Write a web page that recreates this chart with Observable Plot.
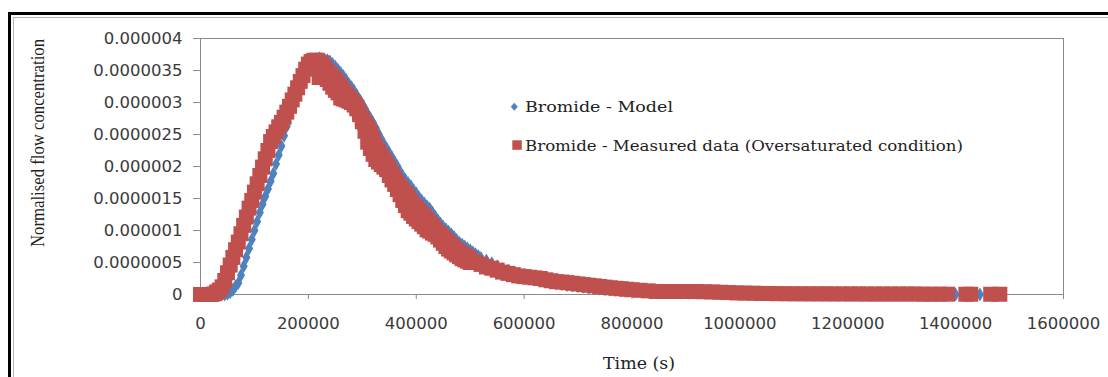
<!DOCTYPE html>
<html><head><meta charset="utf-8">
<script src="https://cdn.jsdelivr.net/npm/d3@7"></script>
<script src="https://cdn.jsdelivr.net/npm/@observablehq/plot@0.6"></script>
<style>
html,body{margin:0;padding:0;background:#fff;}
#wrap{position:relative;width:1108px;height:377px;overflow:hidden;background:#fff;}
#outer{position:absolute;left:8px;top:12px;width:1300px;height:600px;border-left:3px solid #000;border-top:3px solid #000;}
#inner{position:absolute;left:13px;top:17px;width:1300px;height:600px;border-left:1px solid #b5b5b5;border-top:1px solid #b5b5b5;}
#wrap svg{position:absolute;left:0;top:0;overflow:visible;}
</style></head><body>
<div id="wrap"><div id="outer"></div><div id="inner"></div></div>
<script>
// ---- axis ticks ----
const xTicks = [0, 200000, 400000, 600000, 800000, 1000000, 1200000, 1400000, 1600000];
const xTickLabels = ["0", "200000", "400000", "600000", "800000", "1000000", "1200000", "1400000", "1600000"];
const yTicks = [0, 5e-7, 1e-6, 1.5e-6, 2e-6, 2.5e-6, 3e-6, 3.5e-6, 4e-6];
const yTickLabels = ["0", "0.0000005", "0.000001", "0.0000015", "0.000002", "0.0000025", "0.000003", "0.0000035", "0.000004"];

// ---- series names ----
const seriesNames = ["Bromide - Model", "Bromide - Measured data (Oversaturated condition)"];
const axisTitles = {x: "Time (s)", y: "Normalised flow concentration"};

// ---- Bromide - Model (time s, normalised concentration) ----
const modelTime = [0, 5000, 10000, 15000, 20000, 25000, 30000, 35000, 40000, 45000,
  50000, 55000, 60000, 65000, 70000, 75000, 80000, 85000, 90000, 95000,
  100000, 105000, 110000, 115000, 120000, 125000, 130000, 135000, 140000, 145000,
  150000, 155000, 160000, 165000, 170000, 175000, 180000, 185000, 190000, 195000,
  200000, 205000, 210000, 215000, 220000, 225000, 230000, 235000, 240000, 245000,
  250000, 255000, 260000, 265000, 270000, 275000, 280000, 285000, 290000, 295000,
  300000, 305000, 310000, 315000, 320000, 325000, 330000, 335000, 340000, 345000,
  350000, 355000, 360000, 365000, 370000, 375000, 380000, 385000, 390000, 395000,
  400000, 405000, 410000, 415000, 420000, 425000, 430000, 435000, 440000, 445000,
  450000, 455000, 460000, 465000, 470000, 475000, 480000, 485000, 490000, 495000,
  500000, 505000, 510000, 515000, 520000, 530000, 540000, 550000, 560000, 570000,
  580000, 590000, 600000, 610000, 620000, 630000, 640000, 650000, 660000, 670000,
  680000, 690000, 700000, 710000, 720000, 730000, 740000, 750000, 760000, 770000,
  780000, 790000, 800000, 815000, 830000, 845000, 860000, 875000, 890000, 905000,
  920000, 935000, 950000, 965000, 980000, 995000, 1010000, 1025000, 1040000, 1055000,
  1070000, 1085000, 1100000, 1115000, 1130000, 1145000, 1160000, 1175000, 1190000, 1205000,
  1220000, 1235000, 1250000, 1265000, 1280000, 1295000, 1310000, 1325000, 1340000, 1355000,
  1370000, 1385000, 1400000, 1415000, 1430000, 1445000, 1460000, 1475000];
const modelConc = [0, 0, 0, 0, 0, 0, 0, 0, 0, 0,
  0.01e-6, 0.035e-6, 0.07e-6, 0.13e-6, 0.18e-6, 0.30e-6, 0.44e-6, 0.58e-6, 0.72e-6, 0.86e-6,
  1.00e-6, 1.14e-6, 1.28e-6, 1.41e-6, 1.53e-6, 1.65e-6, 1.77e-6, 1.89e-6, 2.04e-6, 2.18e-6,
  2.32e-6, 2.48e-6, 2.63e-6, 2.82e-6, 2.97e-6, 3.13e-6, 3.24e-6, 3.34e-6, 3.42e-6, 3.50e-6,
  3.57e-6, 3.62e-6, 3.66e-6, 3.68e-6, 3.69e-6, 3.68e-6, 3.67e-6, 3.66e-6, 3.64e-6, 3.60e-6,
  3.56e-6, 3.51e-6, 3.46e-6, 3.41e-6, 3.35e-6, 3.29e-6, 3.24e-6, 3.18e-6, 3.11e-6, 3.04e-6,
  2.97e-6, 2.90e-6, 2.82e-6, 2.75e-6, 2.68e-6, 2.60e-6, 2.51e-6, 2.43e-6, 2.35e-6, 2.28e-6,
  2.21e-6, 2.14e-6, 2.07e-6, 2.00e-6, 1.92e-6, 1.85e-6, 1.79e-6, 1.74e-6, 1.69e-6, 1.63e-6,
  1.58e-6, 1.52e-6, 1.47e-6, 1.42e-6, 1.38e-6, 1.34e-6, 1.28e-6, 1.22e-6, 1.16e-6, 1.11e-6,
  1.06e-6, 1.02e-6, 0.98e-6, 0.94e-6, 0.90e-6, 0.85e-6, 0.81e-6, 0.78e-6, 0.75e-6, 0.72e-6,
  0.69e-6, 0.66e-6, 0.63e-6, 0.60e-6, 0.57e-6, 0.53e-6, 0.49e-6, 0.44e-6, 0.40e-6, 0.37e-6,
  0.34e-6, 0.31e-6, 0.29e-6, 0.27e-6, 0.25e-6, 0.23e-6, 0.21e-6, 0.19e-6, 0.18e-6, 0.165e-6,
  0.15e-6, 0.14e-6, 0.13e-6, 0.12e-6, 0.11e-6, 0.10e-6, 0.095e-6, 0.088e-6, 0.082e-6, 0.075e-6,
  0.07e-6, 0.064e-6, 0.059e-6, 0.053e-6, 0.047e-6, 0.042e-6, 0.038e-6, 0.034e-6, 0.031e-6, 0.028e-6,
  0.026e-6, 0.023e-6, 0.02e-6, 0.017e-6, 0.014e-6, 0.012e-6, 0.01e-6, 0.009e-6, 0.008e-6, 0.007e-6,
  0.006e-6, 0.006e-6, 0.005e-6, 0.005e-6, 0.004e-6, 0.004e-6, 0.003e-6, 0.003e-6, 0.003e-6, 0.002e-6,
  0.002e-6, 0.002e-6, 0.002e-6, 0.001e-6, 0.001e-6, 0.001e-6, 0.001e-6, 0.001e-6, 0.001e-6, 0.001e-6,
  0.001e-6, 0.001e-6, 0.001e-6, 0.001e-6, 0.001e-6, 0.001e-6, 0.001e-6, 0.001e-6];

// ---- Bromide - Measured data (time s, normalised concentration) ----
// rising limb and peak
const measuredTimeRise = [0, 5000, 10000, 15000, 20000, 25000, 30000, 35000, 40000, 45000,
  50000, 55000, 60000, 65000, 70000, 75000, 80000, 85000, 90000, 95000,
  100000, 105000, 110000, 115000, 120000, 125000, 130000, 135000, 140000, 145000,
  150000, 155000, 160000, 165000, 170000, 175000, 180000, 185000, 190000, 195000,
  200000, 205000, 210000, 215000, 220000, 225000];
const measuredConcRise = [0, 0, 0, 0, 0, 0.01e-6, 0.04e-6, 0.07e-6, 0.12e-6, 0.22e-6,
  0.34e-6, 0.46e-6, 0.58e-6, 0.70e-6, 0.82e-6, 0.95e-6, 1.08e-6, 1.21e-6, 1.35e-6, 1.47e-6,
  1.60e-6, 1.73e-6, 1.86e-6, 1.99e-6, 2.12e-6, 2.25e-6, 2.39e-6, 2.47e-6, 2.54e-6, 2.62e-6,
  2.69e-6, 2.77e-6, 2.85e-6, 2.94e-6, 3.04e-6, 3.13e-6, 3.23e-6, 3.33e-6, 3.42e-6, 3.52e-6,
  3.60e-6, 3.64e-6, 3.66e-6, 3.66e-6, 3.39e-6, 3.62e-6];
// falling limb: scattered readings, lower and upper values at each time
const measuredTimeFall = [230000, 235000, 240000, 245000, 250000, 255000, 260000, 265000, 270000, 275000,
  280000, 285000, 290000, 295000, 300000, 305000, 310000, 315000, 320000, 325000,
  330000, 335000, 340000, 345000, 350000, 355000, 360000, 365000, 370000, 375000,
  380000, 385000, 390000, 395000, 400000, 405000, 410000, 415000, 420000, 425000,
  430000, 435000, 440000, 445000, 450000, 455000, 460000, 465000, 470000, 475000,
  480000, 485000, 490000, 495000, 500000];
const measuredConcFallLow = [3.42e-6, 3.36e-6, 3.30e-6, 3.24e-6, 3.19e-6, 3.15e-6, 3.07e-6, 3.055e-6, 3.04e-6, 3.02e-6,
  3.00e-6, 2.96e-6, 2.90e-6, 2.81e-6, 2.70e-6, 2.55e-6, 2.38e-6, 2.28e-6, 2.19e-6, 2.11e-6,
  2.07e-6, 2.03e-6, 1.99e-6, 1.95e-6, 1.86e-6, 1.79e-6, 1.72e-6, 1.64e-6, 1.56e-6, 1.47e-6,
  1.39e-6, 1.31e-6, 1.27e-6, 1.22e-6, 1.18e-6, 1.14e-6, 1.10e-6, 1.06e-6, 1.01e-6, 0.99e-6,
  0.96e-6, 0.94e-6, 0.90e-6, 0.85e-6, 0.80e-6, 0.75e-6, 0.71e-6, 0.68e-6, 0.65e-6, 0.62e-6,
  0.59e-6, 0.56e-6, 0.54e-6, 0.52e-6, 0.50e-6];
const measuredConcFallHigh = [3.55e-6, 3.49e-6, 3.44e-6, 3.40e-6, 3.36e-6, 3.30e-6, 3.25e-6, 3.19e-6, 3.135e-6, 3.08e-6,
  3.03e-6, 2.99e-6, 2.93e-6, 2.84e-6, 2.75e-6, 2.68e-6, 2.61e-6, 2.53e-6, 2.44e-6, 2.31e-6,
  2.24e-6, 2.17e-6, 2.10e-6, 2.04e-6, 1.97e-6, 1.89e-6, 1.81e-6, 1.74e-6, 1.68e-6, 1.63e-6,
  1.58e-6, 1.52e-6, 1.46e-6, 1.40e-6, 1.36e-6, 1.31e-6, 1.26e-6, 1.22e-6, 1.17e-6, 1.12e-6,
  1.07e-6, 1.02e-6, 0.97e-6, 0.93e-6, 0.89e-6, 0.85e-6, 0.81e-6, 0.77e-6, 0.73e-6, 0.69e-6,
  0.66e-6, 0.63e-6, 0.61e-6, 0.58e-6, 0.56e-6];
// tail
const measuredTimeTail = [510000, 520000, 530000, 540000, 550000, 560000, 570000, 580000, 590000,
  600000, 610000, 620000, 630000, 640000, 650000, 660000, 670000, 680000, 690000,
  700000, 710000, 720000, 730000, 740000, 750000, 760000, 770000, 780000, 790000,
  800000, 815000, 830000, 845000, 860000, 875000, 890000, 905000, 920000, 935000,
  950000, 965000, 980000, 995000, 1010000, 1025000, 1040000, 1055000, 1070000, 1085000,
  1100000, 1115000, 1130000, 1145000, 1160000, 1175000, 1190000, 1205000, 1220000, 1235000,
  1250000, 1265000, 1280000, 1295000, 1310000, 1325000, 1340000, 1355000, 1370000, 1385000,
  1419000, 1428000, 1465000, 1482000];
const measuredConcTail = [0.50e-6, 0.47e-6, 0.43e-6, 0.41e-6, 0.38e-6, 0.35e-6, 0.33e-6, 0.31e-6, 0.29e-6,
  0.28e-6, 0.27e-6, 0.26e-6, 0.25e-6, 0.23e-6, 0.215e-6, 0.20e-6, 0.195e-6, 0.185e-6, 0.175e-6,
  0.165e-6, 0.155e-6, 0.145e-6, 0.135e-6, 0.125e-6, 0.115e-6, 0.105e-6, 0.097e-6, 0.09e-6, 0.082e-6,
  0.075e-6, 0.066e-6, 0.057e-6, 0.048e-6, 0.047e-6, 0.047e-6, 0.047e-6, 0.047e-6, 0.046e-6, 0.043e-6,
  0.04e-6, 0.035e-6, 0.03e-6, 0.025e-6, 0.022e-6, 0.02e-6, 0.017e-6, 0.015e-6, 0.013e-6, 0.012e-6,
  0.011e-6, 0.011e-6, 0.01e-6, 0.01e-6, 0.01e-6, 0.009e-6, 0.009e-6, 0.009e-6, 0.009e-6, 0.008e-6,
  0.008e-6, 0.008e-6, 0.008e-6, 0.008e-6, 0.008e-6, 0.008e-6, 0.005e-6, 0.005e-6, 0.005e-6, 0.005e-6,
  0.004e-6, 0.004e-6, 0.004e-6, 0.004e-6];

const modelData = modelTime.map((t, i) => ({t, c: modelConc[i]}));
const measuredData = [
  ...measuredTimeRise.map((t, i) => ({t, c: measuredConcRise[i]})),
  ...measuredTimeFall.flatMap((t, i) => [{t, c: measuredConcFallLow[i]}, {t, c: measuredConcFallHigh[i]}]),
  ...measuredTimeTail.map((t, i) => ({t, c: measuredConcTail[i]}))
];

const BLUE = "#4F81BD", RED = "#C0504D";

const chart = Plot.plot({
  width: 1108, height: 377,
  marginLeft: 200, marginRight: 45, marginTop: 38, marginBottom: 83,
  style: {background: "transparent", fontFamily: "DejaVu Sans", fontSize: "16.5px", color: "#333"},
  x: {domain: [0, 1600000]},
  y: {domain: [0, 4e-6]},
  marks: [
    Plot.frame({stroke: "#8a8a8a"}),
    Plot.axisX({ticks: xTicks, tickFormat: d => xTickLabels[xTicks.indexOf(d)], tickSize: 5, tickPadding: 18,
      stroke: "#8a8a8a", fill: "#3a3a3a", fontSize: 16.5, label: null}),
    Plot.axisY({ticks: yTicks, tickFormat: d => yTickLabels[yTicks.indexOf(d)], tickSize: 7, tickPadding: 11,
      stroke: "#8a8a8a", fill: "#3a3a3a", fontSize: 16.5, label: null}),
    Plot.dot(modelData, {x: "t", y: "c", symbol: "diamond", r: 4.25, fill: BLUE, stroke: "none"}),
    Plot.dot(measuredData, {x: "t", y: "c", symbol: "square", r: 8.46, fill: RED, stroke: "none"})
  ]
});

const svg = d3.select(chart);
// axis titles
svg.append("text").text(axisTitles.y)
  .attr("transform", "translate(37.5,143) rotate(-90)")
  .attr("text-anchor", "middle").attr("dominant-baseline", "central")
  .attr("font-family", "Liberation Serif").attr("font-size", 18).attr("fill", "#222")
  .attr("textLength", 208).attr("lengthAdjust", "spacingAndGlyphs");
svg.append("text").text(axisTitles.x)
  .attr("x", 639).attr("y", 369)
  .attr("text-anchor", "middle")
  .attr("font-family", "DejaVu Serif").attr("font-size", 16).attr("fill", "#222")
  .attr("textLength", 72).attr("lengthAdjust", "spacingAndGlyphs");
// legend
const lg = svg.append("g").attr("text-anchor", "start");
lg.append("path").attr("d", "M514.3,102.7L517.8,106.7L514.3,110.7L510.8,106.7Z").attr("fill", BLUE);
lg.append("text").text(seriesNames[0]).attr("x", 525).attr("y", 112.3)
  .attr("text-anchor", "start")
  .attr("font-family", "DejaVu Serif").attr("font-size", 15).attr("fill", "#222")
  .attr("textLength", 148).attr("lengthAdjust", "spacingAndGlyphs");
lg.append("rect").attr("x", 512.3).attr("y", 140.3).attr("width", 9.5).attr("height", 9.5).attr("fill", RED);
lg.append("text").text(seriesNames[1]).attr("x", 525).attr("y", 151)
  .attr("text-anchor", "start")
  .attr("font-family", "DejaVu Serif").attr("font-size", 15).attr("fill", "#222")
  .attr("textLength", 438).attr("lengthAdjust", "spacingAndGlyphs");

document.getElementById("wrap").appendChild(chart);
</script>
</body></html>
